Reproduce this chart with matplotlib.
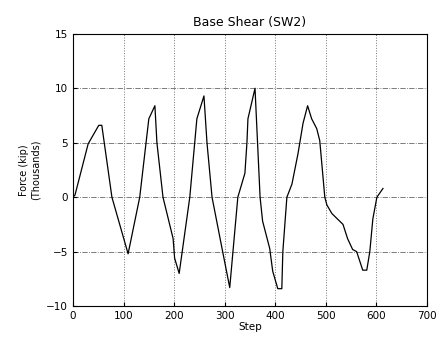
import matplotlib

matplotlib.use('Agg')
import matplotlib.pyplot as plt

# data (Step vs. force in thousands of kips)
step = [0, 4, 30, 51, 57, 77, 109, 132, 150, 162, 166, 178, 198, 201, 210,
        231, 245, 259, 265, 275, 296, 310, 326, 340, 344, 346, 360,
        363, 370, 375, 389, 395, 405, 413, 415, 423, 433, 445, 455, 464,
        472, 482, 488, 498, 502, 512, 534, 543, 553, 561, 573, 581, 587,
        593, 601, 613]
force = [0.0, 0.2, 4.9, 6.6, 6.6, 0.0, -5.2, 0.0, 7.2, 8.4, 5.0, 0.0, -3.8, -5.6, -7.0,
         0.0, 7.2, 9.3, 5.0, 0.0, -5.0, -8.3, 0.0, 2.2, 5.0, 7.2, 10.0,
         7.0, 0.0, -2.2, -4.7, -6.8, -8.4, -8.4, -5.0, 0.0, 1.2, 4.0, 6.8, 8.4,
         7.2, 6.3, 5.2, 0.0, -0.7, -1.5, -2.5, -3.8, -4.8, -5.0, -6.7, -6.7, -5.0,
         -2.0, 0.0, 0.8]

xticks = [0, 100, 200, 300, 400, 500, 600, 700]
yticks = [-10, -5, 0, 5, 10, 15]

fig = plt.figure(figsize=(4.37, 3.42), dpi=100)
ax = fig.add_axes([0.167, 0.105, 0.81, 0.796])

ax.plot(step, force, color='black', linewidth=0.9)

ax.set_xlim(0, 700)
ax.set_ylim(-10, 15)
ax.set_xticks(xticks)
ax.set_yticks(yticks)
ax.tick_params(direction='in', labelsize=7.5, length=3)
# vertical grid dotted, horizontal dash-dot, like the plotter output
ax.xaxis.grid(True, color='#777777', linestyle=':', linewidth=0.7)
ax.yaxis.grid(True, color='#666666', linestyle='-.', linewidth=0.6)

ax.set_title('Base Shear (SW2)', fontsize=9)
ax.set_xlabel('Step', fontsize=7.5, labelpad=1)
ax.set_ylabel('Force (kip)\n(Thousands)', fontsize=7, labelpad=4)

fig.savefig('out.png', dpi=100)
